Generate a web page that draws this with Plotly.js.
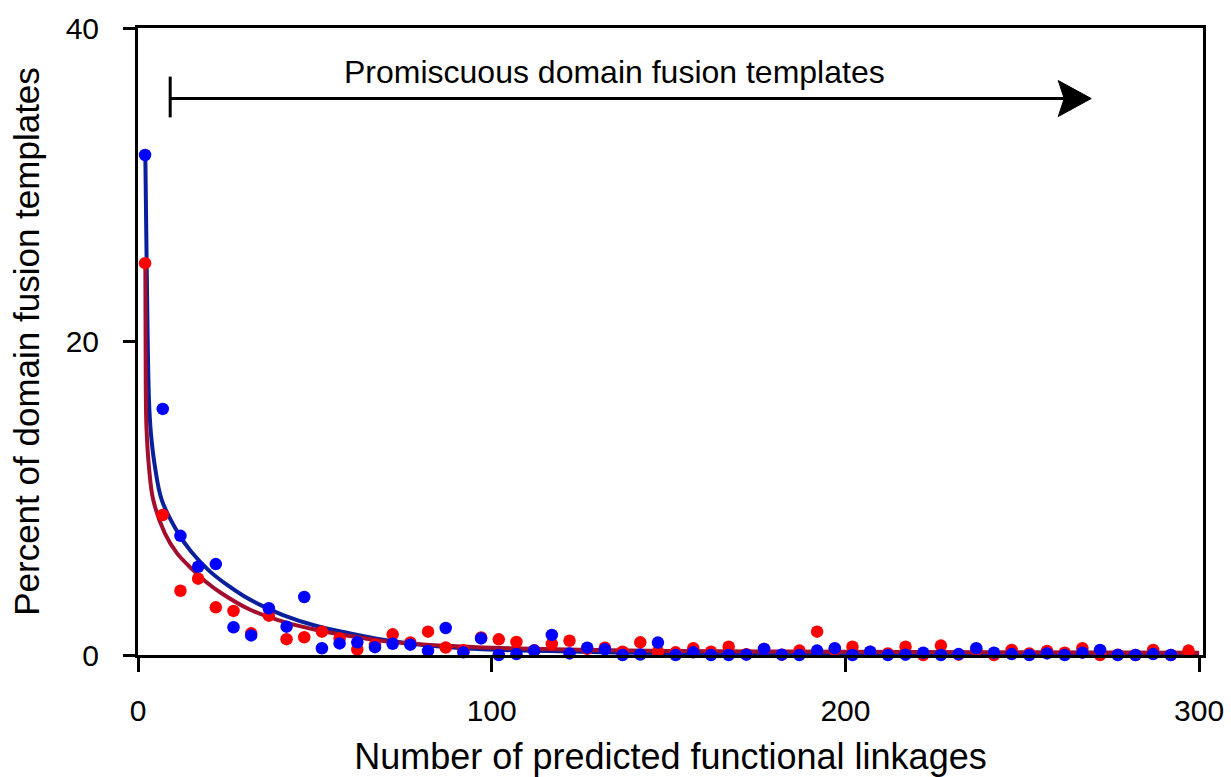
<!DOCTYPE html>
<html>
<head>
<meta charset="utf-8">
<script src="https://cdn.plot.ly/plotly-3.0.1.min.js"></script>
<style>
  html, body { margin: 0; padding: 0; background: #fff; }
  #chart { width: 1231px; height: 777px; }
</style>
</head>
<body>
<div id="chart"></div>
<script>
// Number of predicted functional linkages (x positions of the points)
const linkages = [2, 7, 12, 17, 22, 27, 32, 37, 42, 47, 52, 57, 62, 67, 72, 77, 82, 87, 92, 97,
  102, 107, 112, 117, 122, 127, 132, 137, 142, 147, 152, 157, 162, 167, 172, 177, 182, 187, 192, 197,
  202, 207, 212, 217, 222, 227, 232, 237, 242, 247, 252, 257, 262, 267, 272, 277, 282, 287, 292, 297];

// Percent of domain fusion templates – blue series
const bluePercent = [31.9, 15.7, 7.6, 5.63, 5.8, 1.77, 1.25, 2.98, 1.81, 3.7,
  0.43, 0.74, 0.81, 0.5, 0.72, 0.66, 0.26, 1.72, 0.17, 1.06,
  0, 0.06, 0.28, 1.28, 0.1, 0.47, 0.36, 0, 0.03, 0.79,
  0, 0.17, 0, 0, 0.02, 0.38, 0.02, 0, 0.28, 0.43,
  0, 0.21, 0, 0.02, 0.15, 0, 0.06, 0.43, 0.15, 0.06,
  0, 0.1, 0, 0.15, 0.32, 0, 0, 0.06, 0, null];

// Percent of domain fusion templates – red series
const redPercent = [25.0, 8.93, 4.1, 4.87, 3.04, 2.81, 1.38, 2.51, 1.01, 1.13,
  1.49, 1.05, 0.35, 0.64, 1.32, 0.8, 1.49, 0.48, 0.3, 1.12,
  1.0, 0.83, 0.3, 0.7, 0.91, 0.4, 0.47, 0.21, 0.81, 0.21,
  0.17, 0.43, 0.21, 0.53, 0.05, 0.38, 0.02, 0.28, 1.49, 0.32,
  0.53, 0.2, 0.1, 0.53, 0, 0.6, 0.02, 0.35, 0, 0.32,
  0.1, 0.26, 0.15, 0.43, 0, 0.02, 0, 0.32, 0, 0.28];

// Fitted trend curves
const blueFitX = [2.07, 2.45, 3.1, 3.67, 4.8, 6.7, 11.4, 15, 20, 25, 30, 35, 41, 50.5, 60, 69.3, 78.7, 88.1, 97.5, 125, 150, 200, 250, 300];
const blueFitY = [31.9, 25.0, 16.3, 14.1, 12.0, 9.9, 7.76, 6.6, 5.4, 4.5, 3.75, 3.15, 2.55, 1.85, 1.38, 0.98, 0.69, 0.5, 0.37, 0.2, 0.12, 0.06, 0.04, 0.03];
const redFitX = [2.07, 2.2, 2.4, 3.1, 4.3, 7.6, 11, 15.2, 19, 23.6, 31.6, 41, 50.5, 59.9, 69.3, 78.7, 88.1, 97.5, 125, 150, 200, 250, 300];
const redFitY = [25.0, 17.0, 14.5, 12.0, 9.9, 7.76, 6.5, 5.5, 4.7, 3.94, 2.9, 2.13, 1.6, 1.21, 0.9, 0.71, 0.58, 0.48, 0.33, 0.26, 0.2, 0.17, 0.15];

// Axis ticks
const xTicks = [0, 100, 200, 300];
const yTicks = [0, 20, 40];

const FONT = 'Liberation Sans, Arial, sans-serif';

const traces = [
  { x: blueFitX, y: blueFitY, type: 'scatter', mode: 'lines',
    line: { color: '#0a1f9c', width: 4, shape: 'spline', smoothing: 1 }, hoverinfo: 'skip' },
  { x: redFitX, y: redFitY, type: 'scatter', mode: 'lines',
    line: { color: '#a30d2e', width: 4, shape: 'spline', smoothing: 1 }, hoverinfo: 'skip' },
  { x: linkages, y: redPercent, type: 'scatter', mode: 'markers', cliponaxis: false,
    marker: { color: '#ff0000', size: 12.5 } },
  { x: linkages, y: bluePercent, type: 'scatter', mode: 'markers', cliponaxis: false,
    marker: { color: '#0000ff', size: 12.5 } }
];

const layout = {
  width: 1231, height: 777,
  margin: { l: 138, r: 28, t: 28, b: 122 },
  paper_bgcolor: '#fff', plot_bgcolor: '#fff',
  showlegend: false,
  font: { family: FONT, color: '#000', size: 30 },
  xaxis: {
    range: [0, 301.1], tickvals: xTicks, ticktext: xTicks.map(String),
    showgrid: false, zeroline: false, showline: true, linecolor: '#000', linewidth: 3,
    mirror: true, ticks: 'outside', ticklen: 14, tickwidth: 3, tickcolor: '#000',
    tickfont: { family: FONT, size: 30, color: '#000' }, ticklabelstandoff: 13,
    title: { text: 'Number of predicted functional linkages', font: { family: FONT, size: 36, color: '#000' }, standoff: 24 }
  },
  yaxis: {
    range: [0, 40], tickvals: yTicks, ticktext: yTicks.map(String),
    showgrid: false, zeroline: false, showline: true, linecolor: '#000', linewidth: 3,
    mirror: true, ticks: 'outside', ticklen: 12, tickwidth: 3, tickcolor: '#000',
    tickfont: { family: FONT, size: 30, color: '#000' }, ticklabelstandoff: 18,
    title: { text: 'Percent of domain fusion templates', font: { family: FONT, size: 35, color: '#000' }, standoff: 16 }
  },
  shapes: [
    // vertical bar at the start of the arrow
    { type: 'line', xref: 'x', yref: 'y', x0: 9.1, x1: 9.1, y0: 34.3, y1: 36.9,
      line: { color: '#000', width: 3 } },
    // arrow shaft
    { type: 'line', xref: 'x', yref: 'y', x0: 9.1, x1: 262, y0: 35.5, y1: 35.5,
      line: { color: '#000', width: 3 } },
    // notched arrow head (pixel-sized, anchored at the tip)
    { type: 'path', xref: 'x', yref: 'y', xsizemode: 'pixel', ysizemode: 'pixel',
      xanchor: 269.5, yanchor: 35.5,
      path: 'M0,0 L-33,18 L-27,0 L-33,-18 Z',
      fillcolor: '#000', line: { color: '#000', width: 1 } }
  ],
  annotations: [
    { x: 134.6, y: 37.2, xref: 'x', yref: 'y', text: 'Promiscuous domain fusion templates',
      showarrow: false, font: { family: FONT, size: 32, color: '#000' } }
  ]
};

Plotly.newPlot('chart', traces, layout, { displayModeBar: false, staticPlot: true });
</script>
</body>
</html>
